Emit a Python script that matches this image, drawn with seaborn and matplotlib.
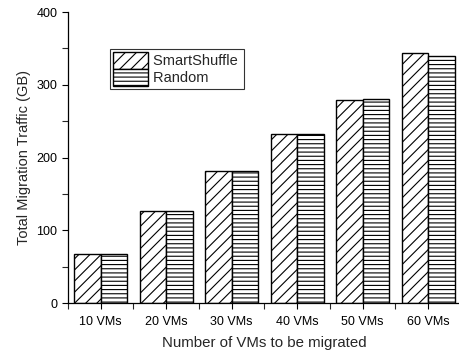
import matplotlib
matplotlib.use("Agg")
import matplotlib.pyplot as plt
import seaborn as sns
import pandas as pd
import numpy as np
from matplotlib.ticker import MultipleLocator, FixedLocator

categories = ["10 VMs", "20 VMs", "30 VMs", "40 VMs", "50 VMs", "60 VMs"]
smartshuffle = [67, 126, 181, 232, 279, 344]
random_vals = [67, 127, 181, 232, 280, 339]
series_names = ["SmartShuffle", "Random"]

df = pd.DataFrame({
    "cat": categories * 2,
    "val": smartshuffle + random_vals,
    "series": [series_names[0]] * len(categories) + [series_names[1]] * len(categories),
})

sns.set_style("ticks")
plt.rcParams["font.family"] = ["Liberation Sans", "DejaVu Sans"]
plt.rcParams["hatch.linewidth"] = 0.8

fig = plt.figure(figsize=(4.59, 3.54), dpi=100)
ax = fig.add_axes([0.148, 0.144, 0.856, 0.822])

sns.barplot(data=df, x="cat", y="val", hue="series", ax=ax, width=0.81,
            palette=["white", "white"], edgecolor="black", linewidth=1.0,
            saturation=1, gap=0)

hatches = ["///", "----"]
for container, h in zip(ax.containers, hatches):
    for bar in container:
        bar.set_hatch(h)
        bar.set_edgecolor("black")

ax.set_ylim(0, 400)
ax.set_xlim(-0.5, 5.5)
ax.yaxis.set_major_locator(MultipleLocator(100))
ax.yaxis.set_minor_locator(MultipleLocator(50))
ax.xaxis.set_minor_locator(FixedLocator(np.arange(-0.5, 6.0, 1.0)))
ax.tick_params(axis="both", which="major", direction="out", length=4, width=0.8, labelsize=9, colors="black")
ax.tick_params(axis="x", which="major", pad=5)
ax.tick_params(axis="both", which="minor", direction="out", length=4, width=0.8)
for s in ["top", "right"]:
    ax.spines[s].set_visible(False)
for s in ["left", "bottom"]:
    ax.spines[s].set_color("black")
    ax.spines[s].set_linewidth(0.9)

ax.set_xlabel("Number of VMs to be migrated", fontsize=10.8, labelpad=6)
ax.set_ylabel("Total Migration Traffic (GB)", fontsize=10.5, labelpad=4)

handles, labels = ax.get_legend_handles_labels()
for hnd, h in zip(handles, hatches):
    hnd.set_hatch(h)
    hnd.set_facecolor("white")
    hnd.set_edgecolor("black")
labels = [l + " " for l in labels]
leg = ax.legend(handles, labels, loc="upper left", bbox_to_anchor=(0.108, 0.872),
                frameon=True, fancybox=False, edgecolor="black", fontsize=10.5,
                handlelength=2.4, handleheight=1.4, borderpad=0.2, labelspacing=0.0,
                handletextpad=0.3, borderaxespad=0)
leg.get_frame().set_linewidth(0.8)

fig.savefig("out.png", dpi=100)
